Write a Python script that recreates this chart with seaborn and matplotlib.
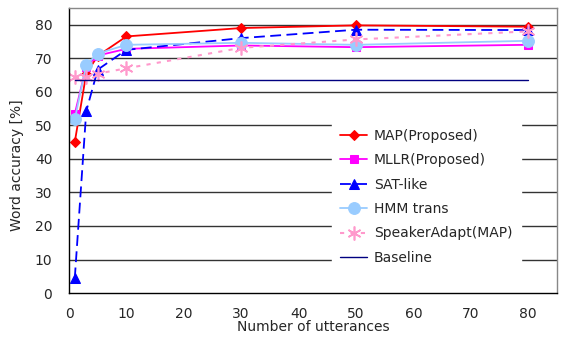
import pandas as pd
import seaborn as sns
import matplotlib.pyplot as plt

utterances = [1, 3, 5, 10, 30, 50, 80]
map_proposed = [45.0, 65.4, 70.7, 76.5, 79.0, 79.8, 79.4]
mllr_proposed = [53.4, 67.5, 70.8, 72.8, 73.8, 73.3, 74.0]
sat_like = [4.4, 54.2, 66.6, 72.5, 76.0, 78.5, 78.4]
hmm_trans = [51.8, 68.0, 71.4, 74.0, 74.6, 74.0, 75.2]
speaker_adapt = [64.4, 64.5, 65.4, 67.0, 73.1, 75.6, 78.0]
baseline = [63.4] * 7

sns.set_style("white")
plt.rcParams["font.family"] = ["DejaVu Sans"]

fig = plt.figure(figsize=(5.63, 3.44), dpi=100)
ax = fig.add_axes([0.1226, 0.148, 0.8664, 0.829])

for y in range(10, 90, 10):
    ax.axhline(y, color="#333333", lw=1.0, zorder=0)

series = [
    ("MAP(Proposed)", map_proposed, dict(color="red", marker="D", ms=5.5, ls="-", lw=1.3)),
    ("MLLR(Proposed)", mllr_proposed, dict(color="#ff00ff", marker="s", ms=6, ls="-", lw=1.3)),
    ("SAT-like", sat_like, dict(color="#0000ff", marker="^", ms=7, ls=(0, (6, 3)), lw=1.3)),
    ("HMM trans", hmm_trans, dict(color="#99ccff", marker="o", ms=8.5, ls="-", lw=1.3)),
    ("SpeakerAdapt(MAP)", speaker_adapt, dict(color="#ff99cc", marker=(6, 2, 0), ms=10, ls=(0, (2, 3)), lw=1.5, mew=1.2)),
    ("Baseline", baseline, dict(color="#000080", marker=None, ls="-", lw=1.0)),
]

for name, vals, kw in series:
    df = pd.DataFrame({"x": utterances, "y": vals})
    sns.lineplot(data=df, x="x", y="y", ax=ax, label=name, mec=kw["color"], **kw)

ax.set_xlim(0, 85)
ax.set_ylim(0, 85)
ax.set_xticks(range(0, 90, 10))
ax.set_yticks(range(0, 90, 10))
ax.tick_params(axis="x", direction="in", length=4, labelsize=10, pad=10, color="black")
ax.tick_params(axis="y", direction="in", length=0, labelsize=10, pad=12)
ax.set_xlabel("Number of utterances", fontsize=10, labelpad=-1)
ax.set_ylabel("Word accuracy [%]", fontsize=10, labelpad=4)
ax.yaxis.set_label_coords(-0.092, 0.45)

for side in ["left", "bottom"]:
    ax.spines[side].set_color("black")
    ax.spines[side].set_linewidth(1.0)
for side in ["top", "right"]:
    ax.spines[side].set_color("#888888")
    ax.spines[side].set_linewidth(1.0)

leg = ax.legend(loc="upper left", bbox_to_anchor=(0.525, 0.63), frameon=True,
                fontsize=10, handlelength=1.9, labelspacing=0.75,
                borderpad=0.6, handletextpad=0.5)
leg.get_frame().set_facecolor("white")
leg.get_frame().set_edgecolor("white")
leg.get_frame().set_alpha(1.0)

plt.savefig("out.png", dpi=100)
